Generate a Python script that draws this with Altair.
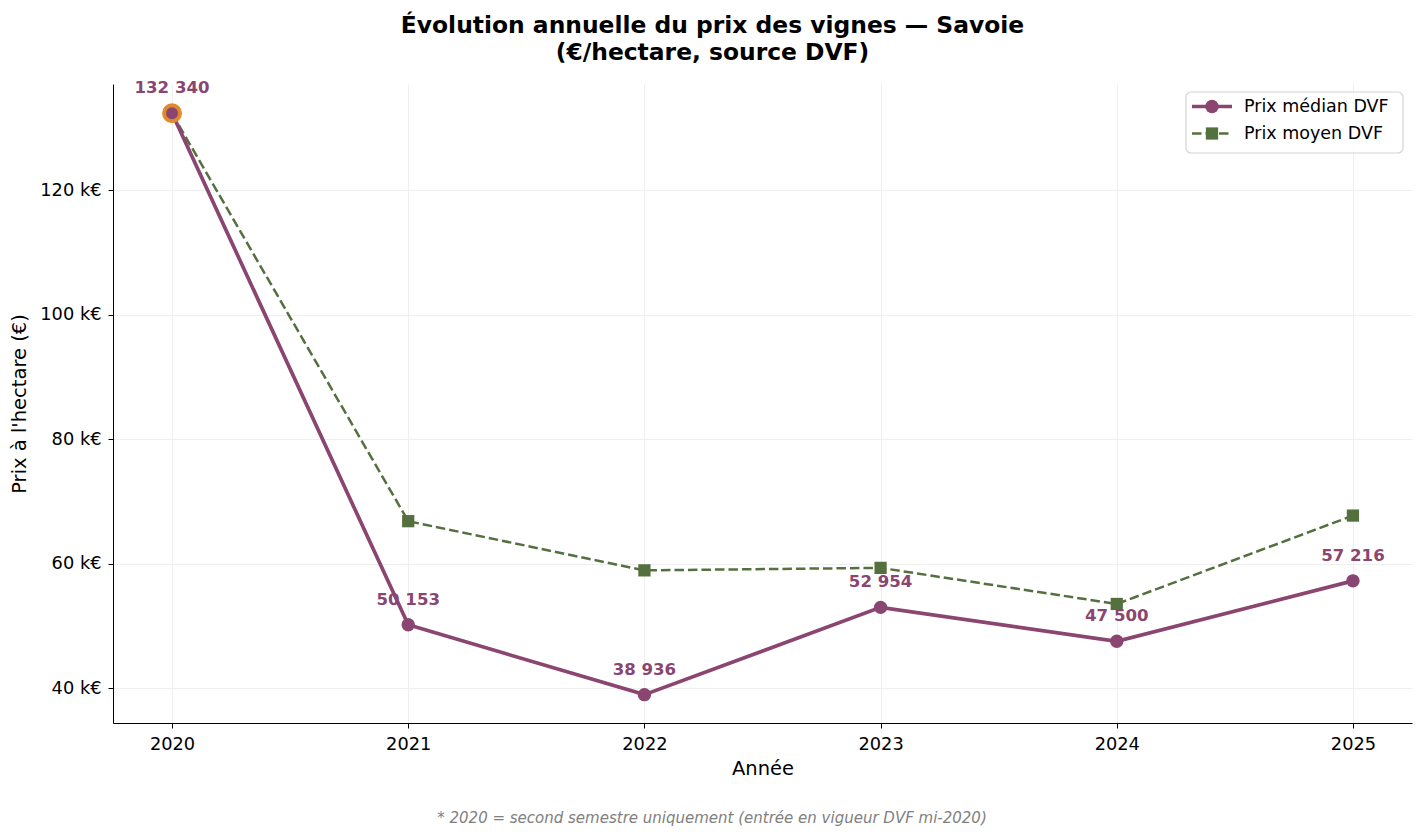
import altair as alt
import pandas as pd

# Annual DVF vineyard prices, Savoie (€/ha)
years = [2020, 2021, 2022, 2023, 2024, 2025]
median_price = [132340, 50153, 38936, 52954, 47500, 57216]
mean_price = [132300, 66800, 58900, 59300, 53500, 67700]
series_names = ["Prix médian DVF", "Prix moyen DVF"]
y_ticks = [40000, 60000, 80000, 100000, 120000]

PURPLE = "#8a4570"
GREEN = "#55703f"
ORANGE = "#e08a2c"
FONT = "DejaVu Sans"
DASH = [9.5, 4]

df = pd.DataFrame({"annee": years, "median": median_price, "moyen": mean_price})
df["label"] = [f"{v:,}".replace(",", " ") for v in median_price]

W, H = 1299, 639

x = alt.X("annee:Q", title="Année",
          scale=alt.Scale(domain=[2019.75, 2025.25], nice=False, zero=False),
          axis=alt.Axis(values=years, format="d", grid=True, gridColor="#efefef",
                        labelFontSize=17.8, titleFontSize=19.5, labelPadding=7,
                        titlePadding=7, tickSize=5, domainColor="black",
                        tickColor="black", labelColor="black", titleColor="black",
                        titleFontWeight="normal", labelFont=FONT, titleFont=FONT))
y_scale = alt.Scale(domain=[34380, 137030], nice=False, zero=False)
y_axis = alt.Axis(values=y_ticks, labelExpr="format(datum.value/1000,'d') + ' k€'",
                  grid=True, gridColor="#efefef", labelFontSize=17.8, titleFontSize=19.5,
                  labelPadding=7, titlePadding=10, tickSize=5, domainColor="black",
                  tickColor="black", labelColor="black", titleColor="black",
                  titleFontWeight="normal", labelFont=FONT, titleFont=FONT)

base = alt.Chart(df)

mean_line = base.mark_line(color=GREEN, strokeWidth=2.5, strokeDash=DASH).encode(
    x=x, y=alt.Y("moyen:Q", scale=y_scale, axis=y_axis, title="Prix à l'hectare (€)"))
mean_pts = base.mark_point(shape="square", filled=True, color=GREEN, size=150, opacity=1).encode(
    x=x, y=alt.Y("moyen:Q", scale=y_scale))

median_line = base.mark_line(color=PURPLE, strokeWidth=3.7).encode(
    x=x, y=alt.Y("median:Q", scale=y_scale))
median_pts = base.mark_point(shape="circle", filled=True, color=PURPLE, size=180, opacity=1).encode(
    x=x, y=alt.Y("median:Q", scale=y_scale))

# 2020 covers only the second half-year: ring it
first = base.transform_filter(alt.datum.annee == years[0]).mark_point(
    shape="circle", filled=True, fill=PURPLE, stroke=ORANGE, strokeWidth=4,
    size=254, opacity=1).encode(x=x, y=alt.Y("median:Q", scale=y_scale))

labels = base.mark_text(color=PURPLE, fontWeight="bold", fontSize=16.6, font=FONT,
                        baseline="middle", dy=-25).encode(
    x=x, y=alt.Y("median:Q", scale=y_scale), text="label:N")

# Legend box
lx0, lx1, ly0, ly1 = 1073, 1290, 8, 69
legend_box = alt.Chart(pd.DataFrame({"k": [0]})).mark_rect(
    fill="white", stroke="#d0d0d0", strokeWidth=1.2, cornerRadius=5, opacity=0.9).encode(
    x=alt.value(lx0), x2=alt.value(lx1), y=alt.value(ly0), y2=alt.value(ly1))

leg_df = pd.DataFrame({"name": series_names})
legend_layers = []
for i, (name, col) in enumerate(zip(series_names, [PURPLE, GREEN])):
    ly = 22.5 + 27 * i
    d = alt.Chart(leg_df.iloc[[i]])
    if i == 0:
        legend_layers.append(d.mark_rule(color=col, strokeWidth=3.7).encode(
            x=alt.value(1079), x2=alt.value(1119), y=alt.value(ly)))
        legend_layers.append(d.mark_point(shape="circle", filled=True, color=col,
                                          size=180, opacity=1).encode(
            x=alt.value(1099), y=alt.value(ly)))
    else:
        legend_layers.append(d.mark_rule(color=col, strokeWidth=2.5,
                                         strokeDash=DASH).encode(
            x=alt.value(1079), x2=alt.value(1119), y=alt.value(ly)))
        legend_layers.append(d.mark_point(shape="square", filled=True, color=col,
                                          size=150, opacity=1).encode(
            x=alt.value(1099), y=alt.value(ly)))
    legend_layers.append(d.mark_text(align="left", baseline="middle", fontSize=17.5,
                                     font=FONT, color="black").encode(
        x=alt.value(1131), y=alt.value(ly), text="name:N"))

footnote = alt.Chart(pd.DataFrame({"t": ["* 2020 = second semestre uniquement (entrée en vigueur DVF mi-2020)"]})).mark_text(
    fontStyle="italic", fontSize=15, color="#808080", font=FONT, align="center",
    baseline="middle").encode(x=alt.value(599), y=alt.value(734), text="t:N")

chart = alt.layer(
    mean_line, median_line, mean_pts, median_pts, first, labels,
    legend_box, *legend_layers, footnote
).properties(
    width=W, height=H,
    padding={"left": 113, "top": 84, "right": 12, "bottom": 115},
    autosize=alt.AutoSizeParams(type="none"),
    title=alt.TitleParams(
        ["Évolution annuelle du prix des vignes — Savoie", "(€/hectare, source DVF)"],
        fontSize=23.4, fontWeight="bold", font=FONT, anchor="middle", dx=-50,
        lineHeight=27, offset=15, color="black"),
).configure_view(stroke=None)

chart.save("out.html", embed_options={"renderer": "svg", "actions": False})
